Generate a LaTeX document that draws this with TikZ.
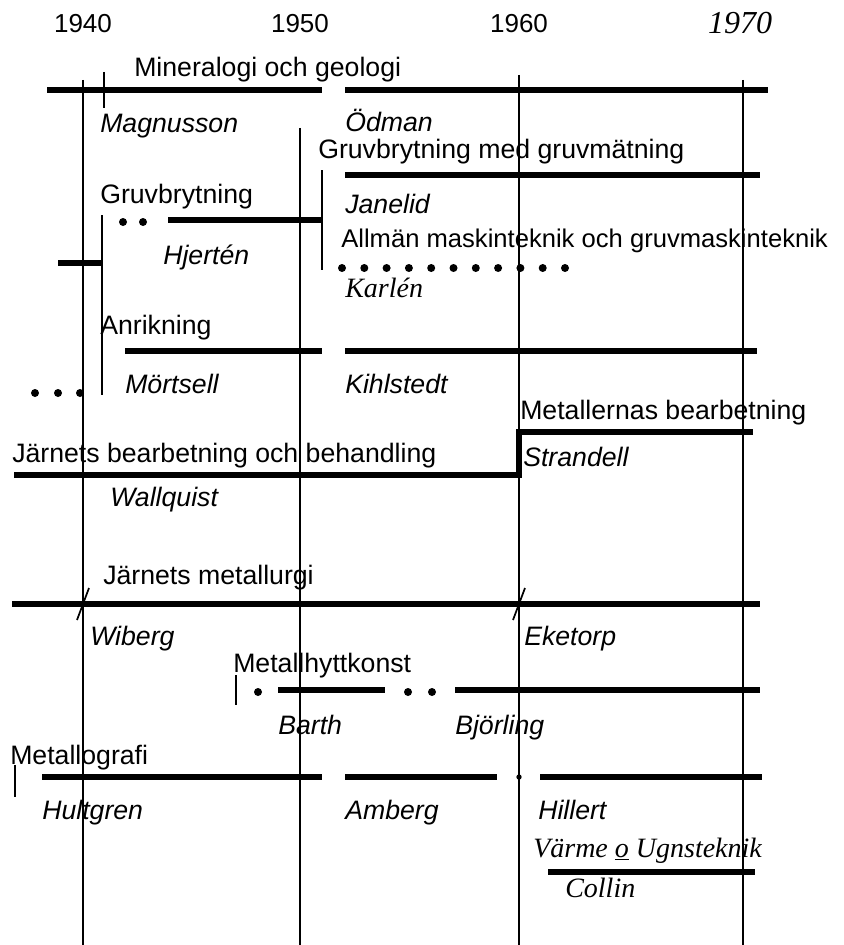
\documentclass[tikz,border=0pt]{standalone}
\usepackage{fontspec}
\setmainfont{Liberation Sans}
\newfontfamily\handfont{Liberation Serif}
\begin{document}
\begin{tikzpicture}[x=0.75pt,y=-0.75pt,
  lbl/.style={anchor=base west,inner sep=0pt,font=\fontsize{20}{22}\selectfont},
  nm/.style={lbl,font=\fontsize{20}{22}\selectfont\itshape},
  hand/.style={lbl,font=\fontsize{21}{24}\selectfont\handfont\itshape},
  yr/.style={anchor=base,inner sep=0pt,font=\fontsize{19.5}{22}\selectfont},
  grid/.style={line width=1.3pt},
  bar/.style={line width=3.8pt},
  dotm/.style={circle,fill=black,inner sep=0pt,minimum size=6pt}]
\useasboundingbox (0,0) rectangle (843,945);
% years
\node[yr] (y40) at (83,33) {1940};
\node[yr] (y50) at (300,33) {1950};
\node[yr] (y60) at (519,33) {1960};
\node[yr,font=\fontsize{24}{26}\selectfont\handfont\itshape] (y70) at (740,34) {1970};
% grid lines
\coordinate (g40a) at (83,80);  \coordinate (g40b) at (83,945);
\coordinate (g50a) at (300,128); \coordinate (g50b) at (300,945);
\coordinate (g60a) at (519,75);  \coordinate (g60b) at (519,945);
\coordinate (g70a) at (743,80);  \coordinate (g70b) at (743,945);
\draw[grid] (g40a) -- (g40b);
\draw[grid] (g50a) -- (g50b);
\draw[grid] (g60a) -- (g60b);
\draw[grid] (g70a) -- (g70b);

% Mineralogi och geologi
\node[lbl] (min) at (134,77) {Mineralogi och geologi};
\coordinate (m1) at (47,90); \coordinate (m2) at (322,90);
\coordinate (m3) at (345,90); \coordinate (m4) at (768,90);
\draw[bar] (m1) -- (m2); \draw[bar] (m3) -- (m4);
\coordinate (mt1) at (104,72); \coordinate (mt2) at (104,108);
\draw[grid] (mt1) -- (mt2);
\node[nm] (magn) at (100,133) {Magnusson};
\node[nm] (odm) at (345,132) {Ödman};

% Gruvbrytning med gruvmätning
\node[lbl] (gmg) at (318,159) {Gruvbrytning med gruvmätning};
\coordinate (gm1) at (345,175); \coordinate (gm2) at (760,175);
\draw[bar] (gm1) -- (gm2);
\node[nm] (jan) at (345,213) {Janelid};
\coordinate (v1a) at (322,170); \coordinate (v1b) at (322,270);
\draw[grid] (v1a) -- (v1b);

% Gruvbrytning
\node[lbl] (gb) at (100,203) {Gruvbrytning};
\node[dotm] (gd1) at (123,222) {};
\node[dotm] (gd2) at (143,222) {};
\coordinate (gb1) at (168,220); \coordinate (gb2) at (322,220);
\draw[bar] (gb1) -- (gb2);
\node[nm] (hje) at (163,264) {Hjertén};
\coordinate (v2a) at (102,215); \coordinate (v2b) at (102,395);
\draw[grid] (v2a) -- (v2b);
\coordinate (s1) at (58,263); \coordinate (s2) at (102,263);
\draw[bar] (s1) -- (s2);

% Allmän maskinteknik
\node[lbl,font=\fontsize{19.2}{22}\selectfont] (allm) at (341,247) {Allmän maskinteknik och gruvmaskinteknik};
\foreach \i in {0,...,10} {\node[dotm] (ad\i) at (342+22.3*\i,268) {};}
\node[hand] (karl) at (345,297) {Karlén};

% Anrikning
\node[lbl] (anr) at (100,334) {Anrikning};
\coordinate (a1) at (125,351); \coordinate (a2) at (322,351);
\coordinate (a3) at (345,351); \coordinate (a4) at (757,351);
\draw[bar] (a1) -- (a2); \draw[bar] (a3) -- (a4);
\node[nm] (mor) at (125,393) {Mörtsell};
\node[nm] (kih) at (345,393) {Kihlstedt};
\node[dotm] (ld1) at (35,393) {};
\node[dotm] (ld2) at (58,393) {};
\node[dotm] (ld3) at (80,393) {};

% Metallernas bearbetning / Järnets bearbetning
\node[lbl] (metb) at (520,419) {Metallernas bearbetning};
\node[nm] (stra) at (523,466) {Strandell};
\node[lbl] (jbb) at (12,462) {Järnets bearbetning och behandling};
\coordinate (j1) at (14,475); \coordinate (j2) at (519,475);
\coordinate (j3) at (519,432); \coordinate (j4) at (753,432);
\draw[bar,line join=miter] (j1) -- (j2) -- (j3) -- (j4);
\node[nm] (wal) at (110,506) {Wallquist};

% Järnets metallurgi
\node[lbl] (jm) at (103,584) {Järnets metallurgi};
\coordinate (jm1) at (12,604); \coordinate (jm2) at (760,604);
\draw[bar] (jm1) -- (jm2);
\coordinate (t1a) at (77,620); \coordinate (t1b) at (89,588);
\coordinate (t2a) at (513,620); \coordinate (t2b) at (525,588);
\draw[grid] (t1a) -- (t1b);
\draw[grid] (t2a) -- (t2b);
\node[nm] (wib) at (90,645) {Wiberg};
\node[nm] (eke) at (524,645) {Eketorp};

% Metallhyttkonst
\node[lbl] (mhk) at (233,672) {Metallhyttkonst};
\coordinate (mt3) at (236,675); \coordinate (mt4) at (236,705);
\draw[grid] (mt3) -- (mt4);
\node[dotm] (hd1) at (258,692) {};
\coordinate (h1) at (278,690); \coordinate (h2) at (385,690);
\draw[bar] (h1) -- (h2);
\node[dotm] (hd2) at (408,692) {};
\node[dotm] (hd3) at (432,692) {};
\coordinate (h3) at (455,690); \coordinate (h4) at (760,690);
\draw[bar] (h3) -- (h4);
\node[nm] (bar) at (278,734) {Barth};
\node[nm] (bjo) at (455,734) {Björling};

% Metallografi
\node[lbl] (mgr) at (10,764) {Metallografi};
\coordinate (mg0a) at (15,765); \coordinate (mg0b) at (15,797);
\draw[grid] (mg0a) -- (mg0b);
\coordinate (mg1) at (42,777); \coordinate (mg2) at (322,777);
\coordinate (mg3) at (345,777); \coordinate (mg4) at (497,777);
\coordinate (mg5) at (540,777); \coordinate (mg6) at (762,777);
\draw[bar] (mg1) -- (mg2); \draw[bar] (mg3) -- (mg4); \draw[bar] (mg5) -- (mg6);
\node[circle,fill=black,inner sep=0pt,minimum size=4pt] (mgd) at (519,777) {};
\node[nm] (hul) at (42,819) {Hultgren};
\node[nm] (amb) at (345,819) {Amberg};
\node[nm] (hil) at (538,819) {Hillert};

% Värme o Ugnsteknik
\node[hand] (varm) at (533,857) {Värme \underline{o} Ugnsteknik};
\coordinate (vu1) at (548,872); \coordinate (vu2) at (755,872);
\draw[bar] (vu1) -- (vu2);
\node[hand] (col) at (565,897) {Collin};
\end{tikzpicture}
\end{document}
